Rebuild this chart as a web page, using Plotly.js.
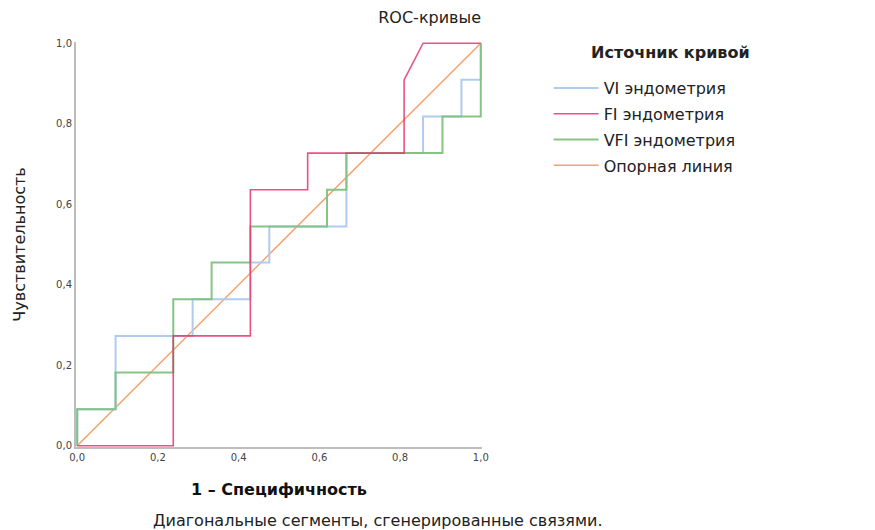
<!DOCTYPE html>
<html>
<head>
<meta charset="utf-8">
<script src="https://cdn.plot.ly/plotly-3.0.1.min.js"></script>
<style>html,body{margin:0;padding:0;background:#fff;}#chart{width:875px;height:530px;}</style>
</head>
<body>
<div id="chart"></div>
<script>
// Series names
const seriesNames = ["VI эндометрия", "FI эндометрия", "VFI эндометрия", "Опорная линия"];

// VI эндометрия (1 - specificity, sensitivity)
const viX = [0, 0, 0.095, 0.095, 0.286, 0.286, 0.429, 0.429, 0.476, 0.476, 0.667, 0.667, 0.857, 0.857, 0.952, 0.952, 1.0, 1.0];
const viY = [0, 0.091, 0.091, 0.273, 0.273, 0.364, 0.364, 0.455, 0.455, 0.545, 0.545, 0.727, 0.727, 0.818, 0.818, 0.909, 0.909, 1.0];

// FI эндометрия
const fiX = [0, 0.238, 0.238, 0.429, 0.429, 0.571, 0.571, 0.810, 0.810, 0.857, 1.0];
const fiY = [0, 0, 0.273, 0.273, 0.636, 0.636, 0.727, 0.727, 0.909, 1.0, 1.0];

// VFI эндометрия
const vfiX = [0, 0, 0.095, 0.095, 0.238, 0.238, 0.333, 0.333, 0.429, 0.429, 0.619, 0.619, 0.667, 0.667, 0.905, 0.905, 1.0, 1.0];
const vfiY = [0, 0.091, 0.091, 0.182, 0.182, 0.364, 0.364, 0.455, 0.455, 0.545, 0.545, 0.636, 0.636, 0.727, 0.727, 0.818, 0.818, 1.0];

// Reference line
const refX = [0, 1];
const refY = [0, 1];

// Axis ticks
const tickVals = [0, 0.2, 0.4, 0.6, 0.8, 1.0];
const tickText = ["0,0", "0,2", "0,4", "0,6", "0,8", "1,0"];

const colors = ["#aecbf0", "#e8346c", "#80c17f", "#f7a06c"];
const FONT = "DejaVu Sans, sans-serif";

const traces = [
  {x: refX, y: refY, name: seriesNames[3], mode: "lines", line: {color: colors[3], width: 1.5}, legendrank: 4, legendgroup: "d"},
  {x: viX, y: viY, name: seriesNames[0], mode: "lines", line: {color: colors[0], width: 2}, legendrank: 1, legendgroup: "a"},
  {x: vfiX, y: vfiY, name: seriesNames[2], mode: "lines", line: {color: colors[2], width: 2}, opacity: 0.95, legendrank: 3, legendgroup: "c"},
  {x: fiX, y: fiY, name: seriesNames[1], mode: "lines", line: {color: colors[1], width: 1.6}, opacity: 0.85, legendrank: 2, legendgroup: "b"}
];

const layout = {
  width: 875, height: 530,
  margin: {l: 76, r: 393, t: 42, b: 83},
  paper_bgcolor: "#fff", plot_bgcolor: "#fff",
  font: {family: FONT, color: "#222"},
  title: {text: "ROC-кривые", x: 0.491, xref: "container", y: 0.967, yref: "container", xanchor: "center", yanchor: "middle",
          font: {size: 16, color: "#222", family: FONT}},
  xaxis: {
    range: [-0.003, 1.003], showgrid: false, zeroline: false,
    showline: true, linecolor: "#bdbdbd", linewidth: 2, ticks: "",
    tickvals: tickVals, ticktext: tickText,
    tickfont: {size: 10, color: "#444", family: FONT},
    title: {text: "<b>1 – Специфичность</b>", standoff: 22, font: {size: 16, color: "#111", family: FONT}}
  },
  yaxis: {
    range: [-0.003, 1.003], showgrid: false, zeroline: false,
    showline: true, linecolor: "#bdbdbd", linewidth: 2, ticks: "",
    tickvals: tickVals, ticktext: tickText,
    tickfont: {size: 10, color: "#444", family: FONT},
    title: {text: "Чувствительность", standoff: 26, font: {size: 16, color: "#222", family: FONT}}
  },
  legend: {
    x: 0.627, xref: "container", y: (447 - 71) / 405, yref: "paper", xanchor: "left", yanchor: "top",
    font: {size: 16, color: "#222", family: FONT},
    bgcolor: "rgba(0,0,0,0)", itemwidth: 45, traceorder: "grouped", tracegroupgap: 2
  },
  annotations: [
    {
      text: "<b>Источник кривой</b>",
      xref: "paper", yref: "paper", x: (670 - 76) / 406, y: (447 - 52) / 405, xanchor: "center", yanchor: "middle",
      showarrow: false, font: {size: 16, color: "#222", family: FONT}
    },
    {
      text: "Диагональные сегменты, сгенерированные связями.",
      xref: "paper", yref: "paper", x: (378 - 76) / 406, y: (447 - 520) / 405, xanchor: "center", yanchor: "middle",
      showarrow: false, font: {size: 16, color: "#222", family: FONT}
    }
  ]
};

Plotly.newPlot("chart", traces, layout, {displayModeBar: false, staticPlot: true});
</script>
</body>
</html>
